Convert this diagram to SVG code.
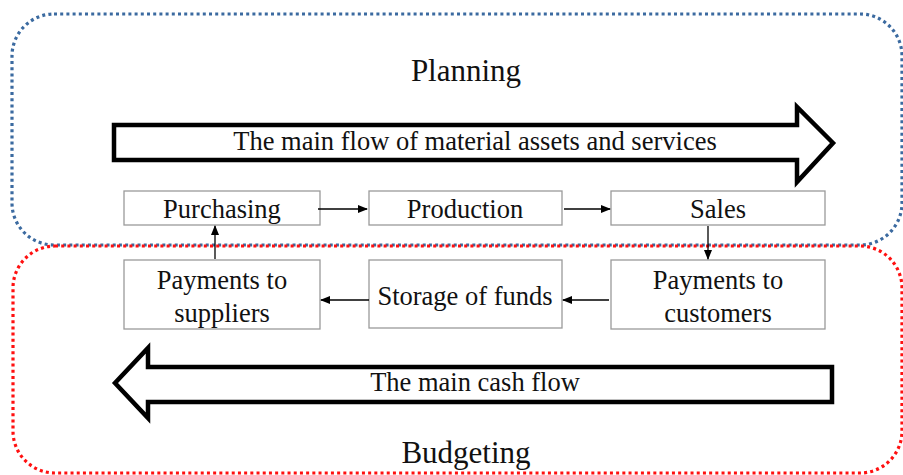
<svg xmlns="http://www.w3.org/2000/svg" width="903" height="475" viewBox="0 0 903 475">
<defs>
<style>
.t{font-family:"Liberation Serif","Times New Roman",serif;fill:#111;text-anchor:middle;font-size:26.5px}
.h{font-size:31px}
.box{fill:#fff;stroke:#9a9a9a;stroke-width:1.3}
.big{fill:#fff;stroke:#000;stroke-width:4.5;stroke-linejoin:miter}
.con{stroke:#000;stroke-width:1.3;fill:none;marker-end:url(#ah)}
</style>
<marker id="ah" markerWidth="10" markerHeight="8" refX="9" refY="4" orient="auto" markerUnits="userSpaceOnUse">
<path d="M0,0 L10,4 L0,8 Z" fill="#000"/>
</marker>
</defs>
<rect width="903" height="475" fill="#fff"/>
<g id="planning">
<rect x="12" y="14" width="890" height="231" rx="42" ry="42" fill="none" stroke="#3b6aa0" stroke-width="3.2" stroke-dasharray="3 3.2"/>
<text class="t h" x="466" y="81">Planning</text>
</g>
<g id="budgeting">
<rect x="13" y="246" width="889" height="227" rx="42" ry="42" fill="none" stroke="#ff1010" stroke-width="3.2" stroke-dasharray="3 3.2"/>
<text class="t h" x="466" y="463">Budgeting</text>
</g>
<g id="material-flow">
<path class="big" d="M114,125 H797 V107 L833,143 L797,182 V160 H114 Z"/>
<text class="t" x="475" y="150">The main flow of material assets and services</text>
</g>
<g id="cash-flow">
<path class="big" d="M832,367 H148 V348 L115,383 L148,418 V402 H832 Z"/>
<text class="t" x="475" y="391">The main cash flow</text>
</g>
<g id="purchasing">
<rect class="box" x="124" y="191" width="196" height="34"/>
<text class="t" x="222" y="218">Purchasing</text>
</g>
<g id="production">
<rect class="box" x="369" y="191" width="193" height="34"/>
<text class="t" x="465" y="218">Production</text>
</g>
<g id="sales">
<rect class="box" x="611" y="191" width="214" height="34"/>
<text class="t" x="718" y="218">Sales</text>
</g>
<g id="payments-suppliers">
<rect class="box" x="124" y="260" width="196" height="69"/>
<text class="t" x="222" y="289">Payments to</text>
<text class="t" x="222" y="322">suppliers</text>
</g>
<g id="storage">
<rect class="box" x="369" y="260" width="193" height="68"/>
<text class="t" x="465" y="305">Storage of funds</text>
</g>
<g id="payments-customers">
<rect class="box" x="611" y="260" width="214" height="69"/>
<text class="t" x="718" y="289">Payments to</text>
<text class="t" x="718" y="322">customers</text>
</g>
<g id="connectors">
<line class="con" x1="318" y1="209" x2="367" y2="209"/>
<line class="con" x1="564" y1="209" x2="610" y2="209"/>
<line class="con" x1="708" y1="226" x2="708" y2="259"/>
<line class="con" x1="609" y1="300" x2="563" y2="300"/>
<line class="con" x1="369" y1="300" x2="321" y2="300"/>
<line class="con" x1="215" y1="259" x2="215" y2="226"/>
</g>
</svg>
